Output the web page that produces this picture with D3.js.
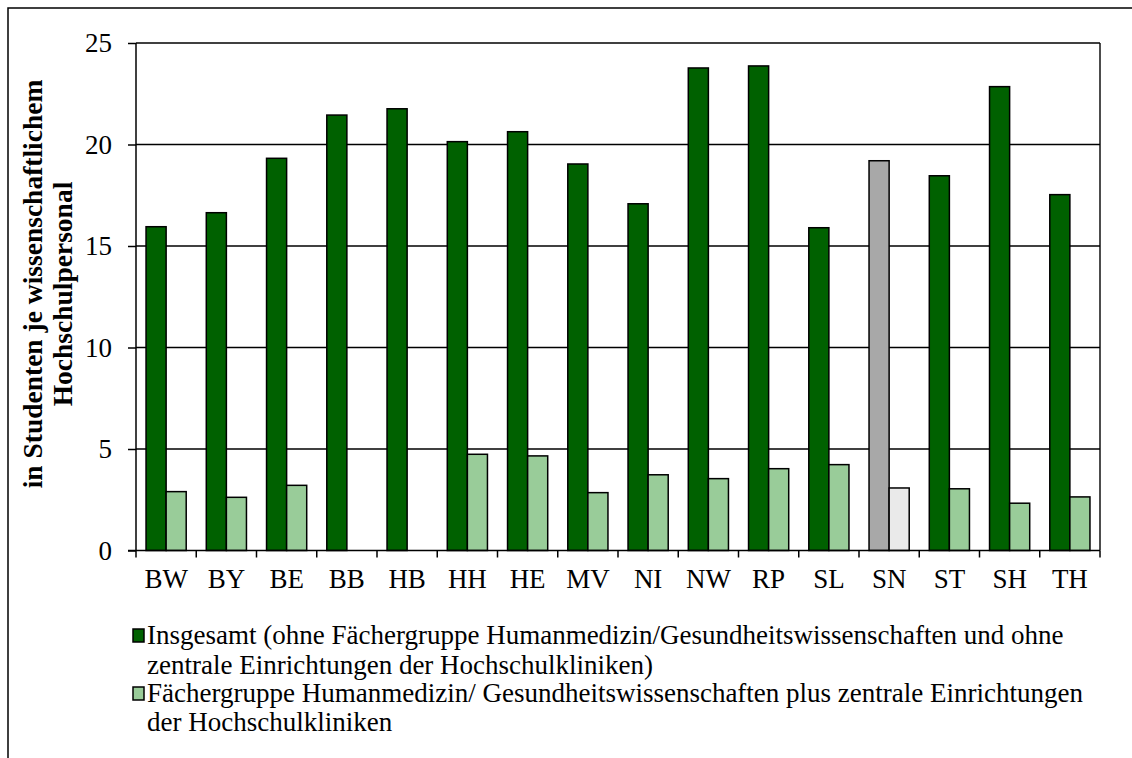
<!DOCTYPE html>
<html>
<head>
<meta charset="utf-8">
<script src="https://cdn.jsdelivr.net/npm/d3@7"></script>
<style>
  html, body { margin: 0; padding: 0; background: #fff; }
  svg { display: block; }
  text { font-family: "Liberation Serif", "Times New Roman", serif; fill: #000; }
</style>
</head>
<body>
<svg id="chart" width="1132" height="758"></svg>
<script>
// Students per scientific staff member, by federal state
const states = ["BW", "BY", "BE", "BB", "HB", "HH", "HE", "MV", "NI", "NW", "RP", "SL", "SN", "ST", "SH", "TH"];
const totalExclMed = [15.95, 16.64, 19.32, 21.45, 21.76, 20.14, 20.63, 19.04, 17.08, 23.77, 23.87, 15.9, 19.2, 18.46, 22.85, 17.53];
const humanMed = [2.9, 2.62, 3.21, null, null, 4.74, 4.66, 2.85, 3.73, 3.54, 4.03, 4.23, 3.08, 3.04, 2.33, 2.64];
const yTicks = [0, 5, 10, 15, 20, 25];
const seriesKeys = ["total", "med"];
const legendLines = [
  ["Insgesamt (ohne Fächergruppe Humanmedizin/Gesundheitswissenschaften und ohne",
   "zentrale Einrichtungen der Hochschulkliniken)"],
  ["Fächergruppe Humanmedizin/ Gesundheitswissenschaften plus zentrale Einrichtungen",
   "der Hochschulkliniken"]
];
const yTitle = ["in Studenten je wissenschaftlichem", "Hochschulpersonal"];

const colors = { total: "#006100", med: "#99cc99" };
const greyed = { total: "#a8a8a8", med: "#eaeaea" };
const greyState = "SN";

const svg = d3.select("#chart");
svg.append("rect").attr("width", 1132).attr("height", 758).attr("fill", "#fff");

// outer frame (open to the right and bottom)
svg.append("path")
  .attr("d", "M8,758 V8 H1132")
  .attr("fill", "none").attr("stroke", "#000").attr("stroke-width", 1.5);

const plot = { left: 136, right: 1100, top: 43, bottom: 550.5 };

const x = d3.scaleBand().domain(states).range([plot.left, plot.right]).padding(0);
const xs = d3.scaleBand().domain(seriesKeys).range([0, x.bandwidth()]).paddingInner(0).paddingOuter(0.5);
const y = d3.scaleLinear().domain([0, 25]).range([plot.bottom, plot.top]);

// horizontal grid lines
svg.append("g").selectAll("line").data(yTicks.filter(d => d > 0)).join("line")
  .attr("x1", plot.left).attr("x2", plot.right)
  .attr("y1", d => y(d)).attr("y2", d => y(d))
  .attr("stroke", "#000").attr("stroke-width", 1.4);

// right border of plot area
svg.append("line")
  .attr("x1", plot.right).attr("x2", plot.right)
  .attr("y1", plot.top).attr("y2", plot.bottom)
  .attr("stroke", "#000").attr("stroke-width", 1.4);

// bars
const rows = states.map((s, i) => ({ state: s, total: totalExclMed[i], med: humanMed[i] }));
const groups = svg.append("g").selectAll("g").data(rows).join("g")
  .attr("transform", d => `translate(${x(d.state)},0)`);
groups.selectAll("rect")
  .data(d => seriesKeys.filter(k => d[k] != null).map(k => ({ key: k, value: d[k], state: d.state })))
  .join("rect")
  .attr("x", d => xs(d.key))
  .attr("width", xs.bandwidth())
  .attr("y", d => y(d.value))
  .attr("height", d => y(0) - y(d.value))
  .attr("fill", d => (d.state === greyState ? greyed : colors)[d.key])
  .attr("stroke", "#000").attr("stroke-width", 1.5);

// y axis
const yAxis = d3.axisLeft(y).tickValues(yTicks).tickSize(8).tickPadding(16).tickFormat(d3.format("d"));
const gy = svg.append("g").attr("transform", `translate(${plot.left},0)`).call(yAxis);
gy.select(".domain").attr("stroke", "#000").attr("stroke-width", 1.5).attr("d", `M0,${plot.top}V${plot.bottom}`);
gy.selectAll(".tick line").attr("stroke", "#000").attr("stroke-width", 1.5);
gy.selectAll(".tick text").attr("font-size", 27).attr("font-family", "Liberation Serif").attr("fill", "#000");

// x axis
const xAxis = d3.axisBottom(x).tickSize(0).tickPadding(18);
const gx = svg.append("g").attr("transform", `translate(0,${plot.bottom})`).call(xAxis);
gx.select(".domain").remove();
gx.append("line").attr("x1", plot.left - 8).attr("x2", plot.right)
  .attr("stroke", "#000").attr("stroke-width", 1.5);
gx.selectAll(".tick text").attr("font-size", 27).attr("font-family", "Liberation Serif").attr("fill", "#000")
  .attr("dy", "0.71em");
// category separators below the axis
gx.append("g").selectAll("line")
  .data(states.map(s => x(s)).concat([plot.right]))
  .join("line")
  .attr("x1", d => d).attr("x2", d => d).attr("y1", 0).attr("y2", 7)
  .attr("stroke", "#000").attr("stroke-width", 1.5);

// y axis title (two lines, rotated)
const titleCenters = [284, 294];
svg.append("g").selectAll("text").data(yTitle).join("text")
  .attr("transform", (d, i) => `translate(${42 + i * 30},${titleCenters[i]}) rotate(-90)`)
  .attr("text-anchor", "middle")
  .attr("font-size", 27.5).attr("font-weight", "bold")
  .text(d => d);

// legend
const legendBase = [[644, 673.5], [702, 731]];
const leg = svg.append("g");
legendLines.forEach((lines, i) => {
  const key = seriesKeys[i];
  leg.append("rect")
    .attr("x", 133).attr("y", legendBase[i][0] - 15)
    .attr("width", 11).attr("height", 13)
    .attr("fill", colors[key]).attr("stroke", "#000").attr("stroke-width", 1.5);
  lines.forEach((t, j) => {
    leg.append("text")
      .attr("x", 147).attr("y", legendBase[i][j])
      .attr("font-size", 27)
      .text(t);
  });
});
</script>
</body>
</html>
